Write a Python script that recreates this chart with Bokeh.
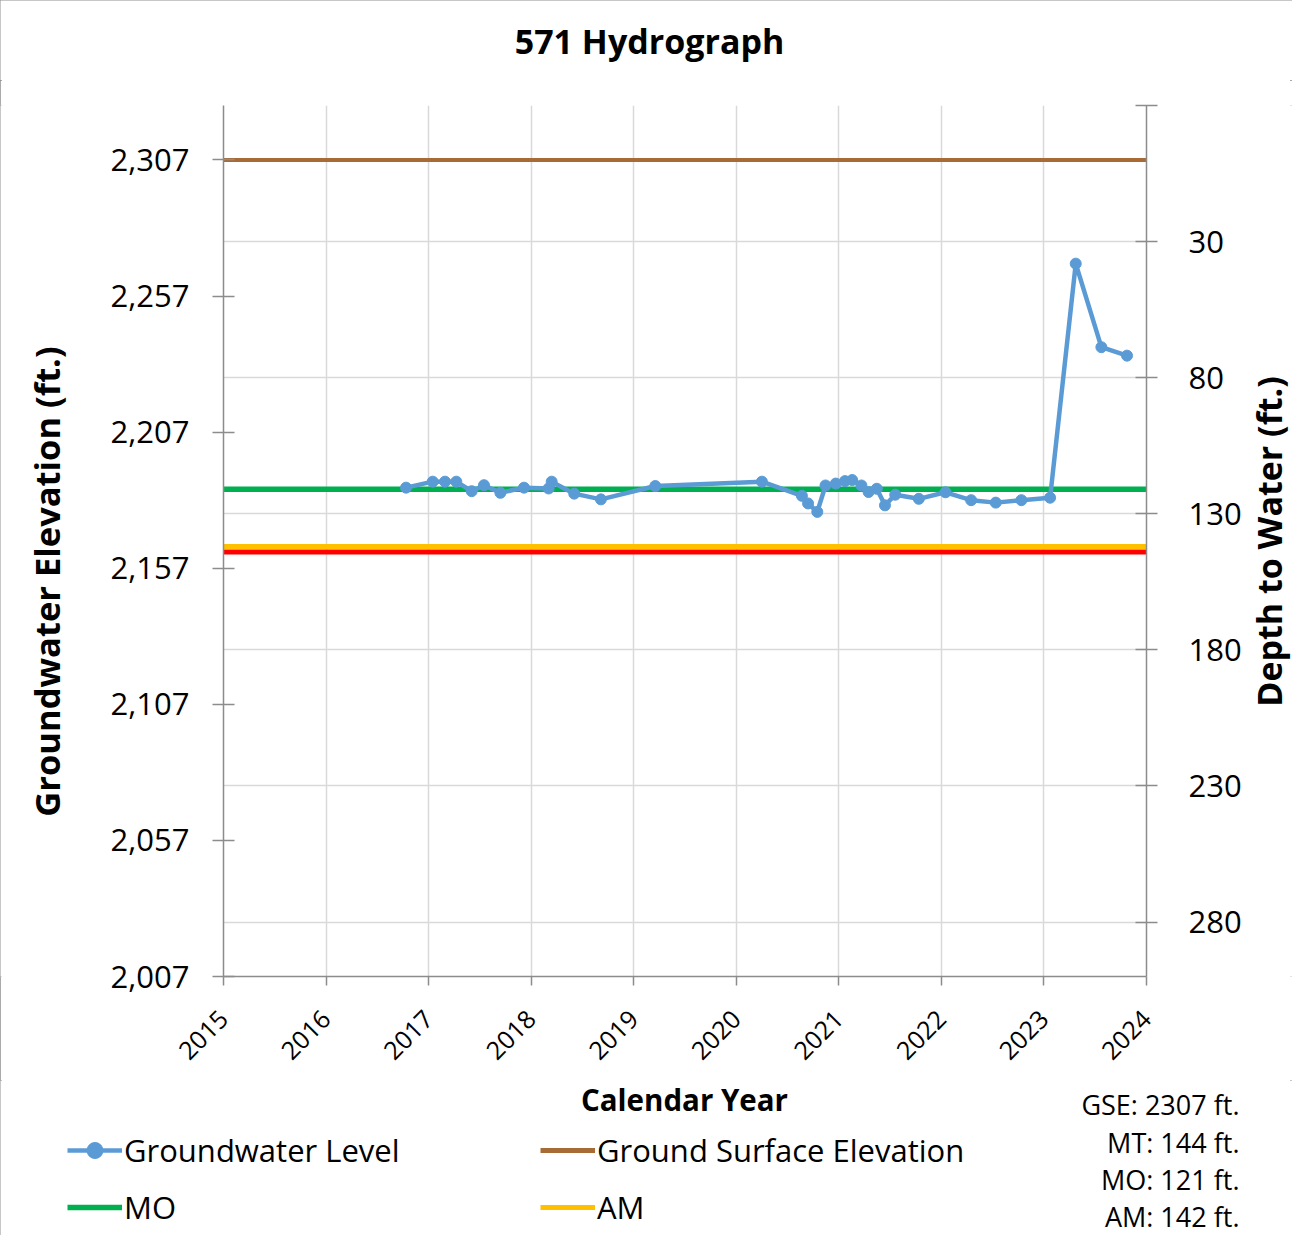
import math
from bokeh.plotting import figure
from bokeh.models import (Range1d, LinearAxis, FixedTicker, NumeralTickFormatter,
                          Label, Legend, LegendItem, GridBox)
from bokeh.embed import file_html
from bokeh.resources import INLINE

# ---------------- data ----------------
TITLE = "571 Hydrograph"
X_LABEL = "Calendar Year"
Y_LABEL = "Groundwater Elevation (ft.)"
Y2_LABEL = "Depth to Water (ft.)"
GSE = 2307          # ground surface elevation (ft)
MT_DEPTH = 144      # minimum threshold depth (ft)
MO_DEPTH = 121      # measurable objective depth (ft)
AM_DEPTH = 142      # alert margin depth (ft)

gw_year = [2016.78, 2017.04, 2017.16, 2017.27, 2017.42, 2017.54, 2017.70, 2017.93,
           2018.17, 2018.20, 2018.42, 2018.68, 2019.21, 2020.25, 2020.64, 2020.70,
           2020.79, 2020.87, 2020.97, 2021.06, 2021.13, 2021.22, 2021.29, 2021.37,
           2021.45, 2021.55, 2021.78, 2022.04, 2022.29, 2022.53, 2022.78, 2023.06,
           2023.31, 2023.56, 2023.81]
gw_elev = [2186.6, 2188.8, 2188.8, 2188.8, 2185.3, 2187.5, 2184.7, 2186.6,
           2186.3, 2188.8, 2184.4, 2182.3, 2187.2, 2188.8, 2183.6, 2180.8,
           2177.7, 2187.4, 2188.1, 2189.0, 2189.4, 2187.4, 2185.0, 2186.2,
           2180.1, 2184.0, 2182.5, 2184.9, 2182.0, 2181.1, 2182.0, 2182.9,
           2268.9, 2238.2, 2235.1]

year_ticks = [2015, 2016, 2017, 2018, 2019, 2020, 2021, 2022, 2023, 2024]
elev_ticks = [2007, 2057, 2107, 2157, 2207, 2257, 2307]
depth_ticks = [-20, 30, 80, 130, 180, 230, 280]
elev_min, elev_max = 2007, 2327

legend_labels = ["Groundwater Level", "Ground Surface Elevation", "MO", "AM"]
notes = [f"GSE: {GSE} ft.", f"MT: {MT_DEPTH} ft.", f"MO: {MO_DEPTH} ft.", f"AM: {AM_DEPTH} ft."]

# ---------------- styles ----------------
FONT = "Open Sans"
AXIS_COL = "#8C8C8C"
GRID_COL = "#D9D9D9"
C_GW = "#5B9BD5"
C_GSE = "#A66B36"
C_MO = "#00B050"
C_AM = "#FFC000"
C_MT = "#FF0000"

W_TOTAL = 1292
W_L, W_R = 90, 48
W_P = W_TOTAL - W_L - W_R
H_TITLE, H_MID, H_BOT = 80, 1000, 155
P_TOP, P_BOTTOM = 25, 104          # chart borders (frame is aligned across the row)
FRAME_BOTTOM = H_MID - P_BOTTOM    # frame bottom, measured from the top of the row


def blank(width, height):
    f = figure(width=width, height=height,
               x_range=Range1d(0, width), y_range=Range1d(0, height),
               x_axis_type=None, y_axis_type=None,
               output_backend="svg", toolbar_location=None,
               min_border=0, min_border_left=0, min_border_right=0,
               min_border_top=0, min_border_bottom=0)
    f.outline_line_color = None
    f.background_fill_color = "white"
    f.border_fill_color = "white"
    return f


def lab(x, y_screen, text, size, bold=False, align="center", angle=0.0):
    return Label(x=x, y=y_screen, x_units="screen", y_units="screen",
                 text=text, angle=angle, text_align=align, text_baseline="middle",
                 text_font=FONT, text_font_style="bold" if bold else "normal",
                 text_font_size=size, text_color="black")


# ---------------- title strip ----------------
top = blank(W_TOTAL, H_TITLE)
top.add_layout(lab(649, H_TITLE - 40, TITLE, "34px", bold=True))

# ---------------- main chart ----------------
p = figure(width=W_P, height=H_MID,
           x_range=Range1d(year_ticks[0], year_ticks[-1]),
           y_range=Range1d(elev_min, elev_max),
           output_backend="svg", toolbar_location=None,
           min_border_left=133, min_border_right=97,
           min_border_top=P_TOP, min_border_bottom=P_BOTTOM)
p.extra_y_ranges = {"depth": Range1d(GSE - elev_min, GSE - elev_max)}
p.outline_line_color = None
p.background_fill_color = "white"
p.border_fill_color = "white"

p.xgrid.ticker = FixedTicker(ticks=year_ticks)
p.xgrid.grid_line_color = GRID_COL
p.xgrid.grid_line_width = 1.5
p.ygrid.ticker = FixedTicker(ticks=[GSE - d for d in depth_ticks])
p.ygrid.grid_line_color = GRID_COL
p.ygrid.grid_line_width = 1.5

xa = p.xaxis[0]
xa.ticker = FixedTicker(ticks=year_ticks)
xa.major_label_orientation = math.pi / 4

ya = p.yaxis[0]
ya.ticker = FixedTicker(ticks=elev_ticks)
ya.formatter = NumeralTickFormatter(format="0,0")

ra = LinearAxis(y_range_name="depth", ticker=FixedTicker(ticks=depth_ticks),
                major_label_overrides={-20: ""})
p.add_layout(ra, "right")

for ax in (xa, ya, ra):
    ax.axis_line_color = AXIS_COL
    ax.axis_line_width = 1.5
    ax.major_tick_line_color = AXIS_COL
    ax.major_tick_line_width = 1.5
    ax.minor_tick_line_color = None
    ax.major_label_text_font = FONT
    ax.major_label_text_color = "black"

xa.major_tick_in = 0
xa.major_tick_out = 9
xa.major_label_text_font_size = "25px"
xa.major_label_standoff = 29

ya.major_tick_in = 11
ya.major_tick_out = 11
ya.major_label_text_font_size = "31px"
ya.major_label_standoff = 23

ra.major_tick_in = 11
ra.major_tick_out = 11
ra.major_label_text_font_size = "31px"
ra.major_label_standoff = 31

x_span = [year_ticks[0], year_ticks[-1]]
p.line(x_span, [GSE, GSE], line_color=C_GSE, line_width=4)
p.line(x_span, [GSE - MT_DEPTH] * 2, line_color=C_MT, line_width=5)
p.line(x_span, [GSE - AM_DEPTH] * 2, line_color=C_AM, line_width=5)
p.line(x_span, [GSE - MO_DEPTH] * 2, line_color=C_MO, line_width=5.5)
p.line(gw_year, gw_elev, line_color=C_GW, line_width=4.5)
p.scatter(gw_year, gw_elev, size=11, marker="circle", fill_color=C_GW, line_color=C_GW)

# ---------------- side label panels ----------------
# label centres measured from the top of the row: left 501, right 461
left_panel = blank(W_L, H_MID)
left_panel.add_layout(lab(46, FRAME_BOTTOM - 501, Y_LABEL, "34.5px",
                          bold=True, angle=math.pi / 2))

right_panel = blank(W_R, H_MID)
right_panel.add_layout(lab(24, FRAME_BOTTOM - 461, Y2_LABEL, "34px",
                           bold=True, angle=math.pi / 2))

# ---------------- bottom panel: x label, legend, notes ----------------
bottom = blank(W_TOTAL, H_BOT)
bottom.add_layout(lab(684, H_BOT - 19, X_LABEL, "29.5px", bold=True))

# legend swatch renderers, kept outside the visible range of the bottom panel
off_x, off_y = [-200, -100], [-50, -50]
d_gwl = bottom.line(off_x, off_y, line_color=C_GW, line_width=4.5)
d_gwp = bottom.scatter(off_x, off_y, size=9, marker="circle", fill_color=C_GW, line_color=C_GW)
d_gse = bottom.line(off_x, off_y, line_color=C_GSE, line_width=5)
d_mo = bottom.line(off_x, off_y, line_color=C_MO, line_width=5.5)
d_am = bottom.line(off_x, off_y, line_color=C_AM, line_width=5)


def add_legend(label, renderers, vx, vy):
    lg = Legend(items=[LegendItem(label=label, renderers=renderers)],
                location=(vx, vy), orientation="horizontal",
                padding=0, margin=0, spacing=0, label_standoff=2,
                glyph_width=55, glyph_height=40, label_height=40,
                border_line_color=None, background_fill_alpha=0,
                label_text_font=FONT, label_text_font_size="31px",
                label_text_color="black")
    bottom.add_layout(lg, "center")


add_legend(legend_labels[0], [d_gwl, d_gwp], 67, 64)
add_legend(legend_labels[1], [d_gse], 540, 64)
add_legend(legend_labels[2], [d_mo], 67, 7)
add_legend(legend_labels[3], [d_am], 540, 7)

note_y = [24, 62, 99, 136]
for t, yy in zip(notes, note_y):
    bottom.add_layout(lab(1239, H_BOT - yy, t, "27px", align="right"))

layout = GridBox(children=[(top, 0, 0, 1, 3),
                           (left_panel, 1, 0, 1, 1),
                           (p, 1, 1, 1, 1),
                           (right_panel, 1, 2, 1, 1),
                           (bottom, 2, 0, 1, 3)],
                 spacing=0)
layout.styles = {"outline": "2px solid #8E8E8E", "outline-offset": "-2px"}

open("out.html", "w").write(file_html(layout, INLINE))
